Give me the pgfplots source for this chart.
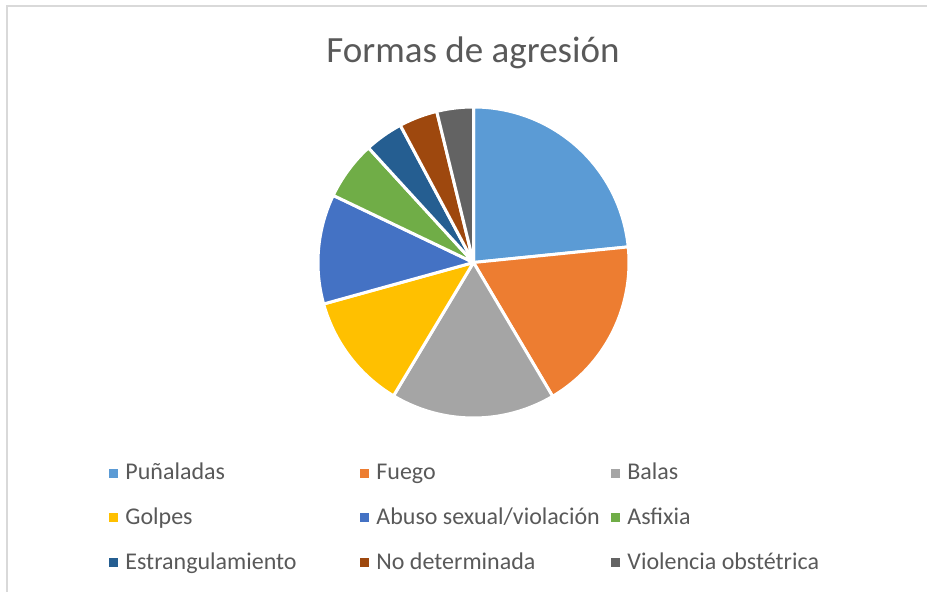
\documentclass[border=0pt]{standalone}
\usepackage{fontspec}
\setmainfont{Carlito}
\usepackage{pgfplots}
\pgfplotsset{compat=1.18}
\definecolor{txt}{HTML}{595959}
\definecolor{frame}{HTML}{D9D9D9}
\definecolor{c1}{HTML}{5B9BD5}
\definecolor{c2}{HTML}{ED7D31}
\definecolor{c3}{HTML}{A5A5A5}
\definecolor{c4}{HTML}{FFC000}
\definecolor{c5}{HTML}{4472C4}
\definecolor{c6}{HTML}{70AD47}
\definecolor{c7}{HTML}{255E91}
\definecolor{c8}{HTML}{9E480E}
\definecolor{c9}{HTML}{636363}
% share of each form of aggression (percent)
\def\startang{90}
\newcommand\pieslice[3]{%
  \pgfmathsetmacro\endang{\startang-3.6*#1}%
  \edef\temp{\noexpand\addplot[fill=#2, draw=white, line width=1.5pt, line join=round, domain=\endang:\startang, samples=100] ({cos(x)},{sin(x)}) -- (axis cs:0,0) -- cycle;}%
  \temp
  \addlegendentry{\makebox[114pt][l]{#3}}%
  \global\let\startang\endang
}
\begin{document}
\begin{tikzpicture}
\path[use as bounding box] (0,0) rectangle (463.5pt,296pt);
\draw[frame, line width=1pt] (3.25pt,0) -- (3.25pt,292.75pt) -- (463.5pt,292.75pt);
\node[anchor=base, text=txt, font=\fontsize{18.5pt}{22pt}\selectfont] at (236.5pt,264.5pt) {Formas de agresión};
\begin{axis}[
  at={(236.75pt,164.75pt)}, anchor=center,
  scale only axis, width=155.5pt, height=155.5pt,
  xmin=-1, xmax=1, ymin=-1, ymax=1,
  hide axis, clip=false,
  legend columns=3,
  legend cell align=left,
  legend image code/.code={\fill[#1,draw=none] (0pt,-2.25pt) rectangle (4.5pt,2.25pt);},
  legend style={at={(-0.672,-0.122)}, anchor=north west, draw=none, fill=none,
    inner sep=0pt, column sep=0pt, row sep=5.5pt,
    font=\fontsize{12pt}{14pt}\selectfont, text=txt,
    nodes={inner sep=3.5pt}},
]
\pieslice{23.4}{c1}{Puñaladas}
\pieslice{18.1}{c2}{Fuego}
\pieslice{17.1}{c3}{Balas}
\pieslice{12.1}{c4}{Golpes}
\pieslice{11.4}{c5}{Abuso sexual/violación}
\pieslice{6.1}{c6}{Asfixia}
\pieslice{4.0}{c7}{Estrangulamiento}
\pieslice{4.0}{c8}{No determinada}
\pieslice{3.8}{c9}{Violencia obstétrica}
\end{axis}
\end{tikzpicture}
\end{document}
